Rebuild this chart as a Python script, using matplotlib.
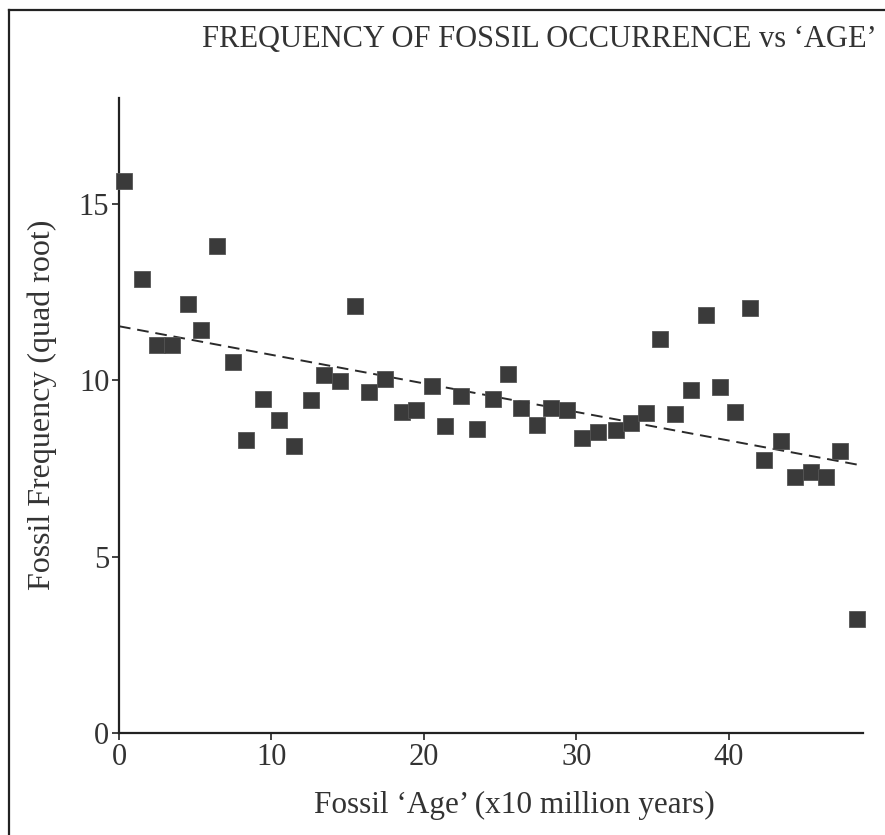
import matplotlib
matplotlib.use("Agg")
import matplotlib.pyplot as plt
from matplotlib.lines import Line2D
import numpy as np

plt.rcParams['font.family'] = ['Liberation Serif', 'DejaVu Serif']

# ---- data ----
age = [0.35, 1.5, 2.5, 3.5, 4.5, 5.4, 6.4, 7.5, 8.35, 9.45, 10.5, 11.5, 12.6,
       13.45, 14.5, 15.5, 16.4, 17.45, 18.55, 19.5, 20.5, 21.4, 22.45, 23.5,
       24.5, 25.5, 26.35, 27.4, 28.35, 29.4, 30.4, 31.4, 32.6, 33.6, 34.55,
       35.5, 36.5, 37.5, 38.5, 39.4, 40.4, 41.4, 42.3, 43.4, 44.35, 45.4,
       46.4, 47.3, 48.4]
freq = [15.65, 12.88, 11.01, 11.01, 12.15, 11.41, 13.81, 10.52, 8.30, 9.46,
        8.88, 8.14, 9.43, 10.16, 9.97, 12.11, 9.67, 10.04, 9.09, 9.17, 9.85,
        8.69, 9.54, 8.62, 9.48, 10.19, 9.21, 8.73, 9.21, 9.15, 8.37, 8.53,
        8.60, 8.79, 9.06, 11.16, 9.03, 9.71, 11.84, 9.80, 9.11, 12.05, 7.73,
        8.29, 7.27, 7.40, 7.25, 7.99, 3.23]
trend_intercept = 11.53
trend_slope = -0.081
x_ticks = [0, 10, 20, 30, 40]
y_ticks = [0, 5, 10, 15]
x_max = 48.8
y_max = 18

title = "FREQUENCY OF FOSSIL OCCURRENCE vs \u2018AGE\u2019"
xlabel = "Fossil \u2018Age\u2019 (x10 million years)"
ylabel = "Fossil Frequency (quad root)"

W, H = 885, 835
fig = plt.figure(figsize=(W / 100, H / 100), dpi=100)
ax = fig.add_axes([119 / W, 102 / H, (863 - 119) / W, (733 - 98) / H])

dark = '#3a3a3a'
ax.plot(age, freq, linestyle='none', marker='s', markersize=11.8,
        markerfacecolor=dark, markeredgecolor='#555555', markeredgewidth=0.6,
        zorder=3, clip_on=False)

tx = np.array([0, x_max])
ax.plot(tx, trend_intercept + trend_slope * tx, linestyle=(0, (6, 3.5)),
        color='#2a2a2a', linewidth=1.4, zorder=2)

ax.set_xlim(0, x_max)
ax.set_ylim(0, y_max)
ax.set_xticks(x_ticks)
ax.set_yticks(y_ticks)
for side in ['top', 'right']:
    ax.spines[side].set_visible(False)
for side in ['left', 'bottom']:
    ax.spines[side].set_linewidth(1.6)
    ax.spines[side].set_color('#222222')
ax.tick_params(axis='both', direction='out', length=5, width=1.2,
               colors='#222222', labelsize=22, labelcolor='#333333', pad=2)

ax.set_xlabel(xlabel, fontsize=22.5, color='#333333')
ax.set_ylabel(ylabel, fontsize=23, color='#333333')
ax.xaxis.set_label_coords((514 - 119) / 744, -(805 - 733) / 635)
ax.xaxis.label.set_va('center')
ax.yaxis.set_label_coords(-(119 - 42) / 744, (733 - 405) / 635)
ax.yaxis.label.set_va('center')

fig.text(877 / W, 1 - 40 / H, title, ha='right', va='center',
         fontsize=22, color='#333333')

# outer frame (top and left edges)
fig.add_artist(Line2D([9 / W, 1.0], [1 - 10 / H, 1 - 10 / H],
                      transform=fig.transFigure, color='#222222', linewidth=1.6))
fig.add_artist(Line2D([9 / W, 9 / W], [0, 1 - 10 / H],
                      transform=fig.transFigure, color='#222222', linewidth=1.6))

fig.savefig('out.png', dpi=100, facecolor='white')
